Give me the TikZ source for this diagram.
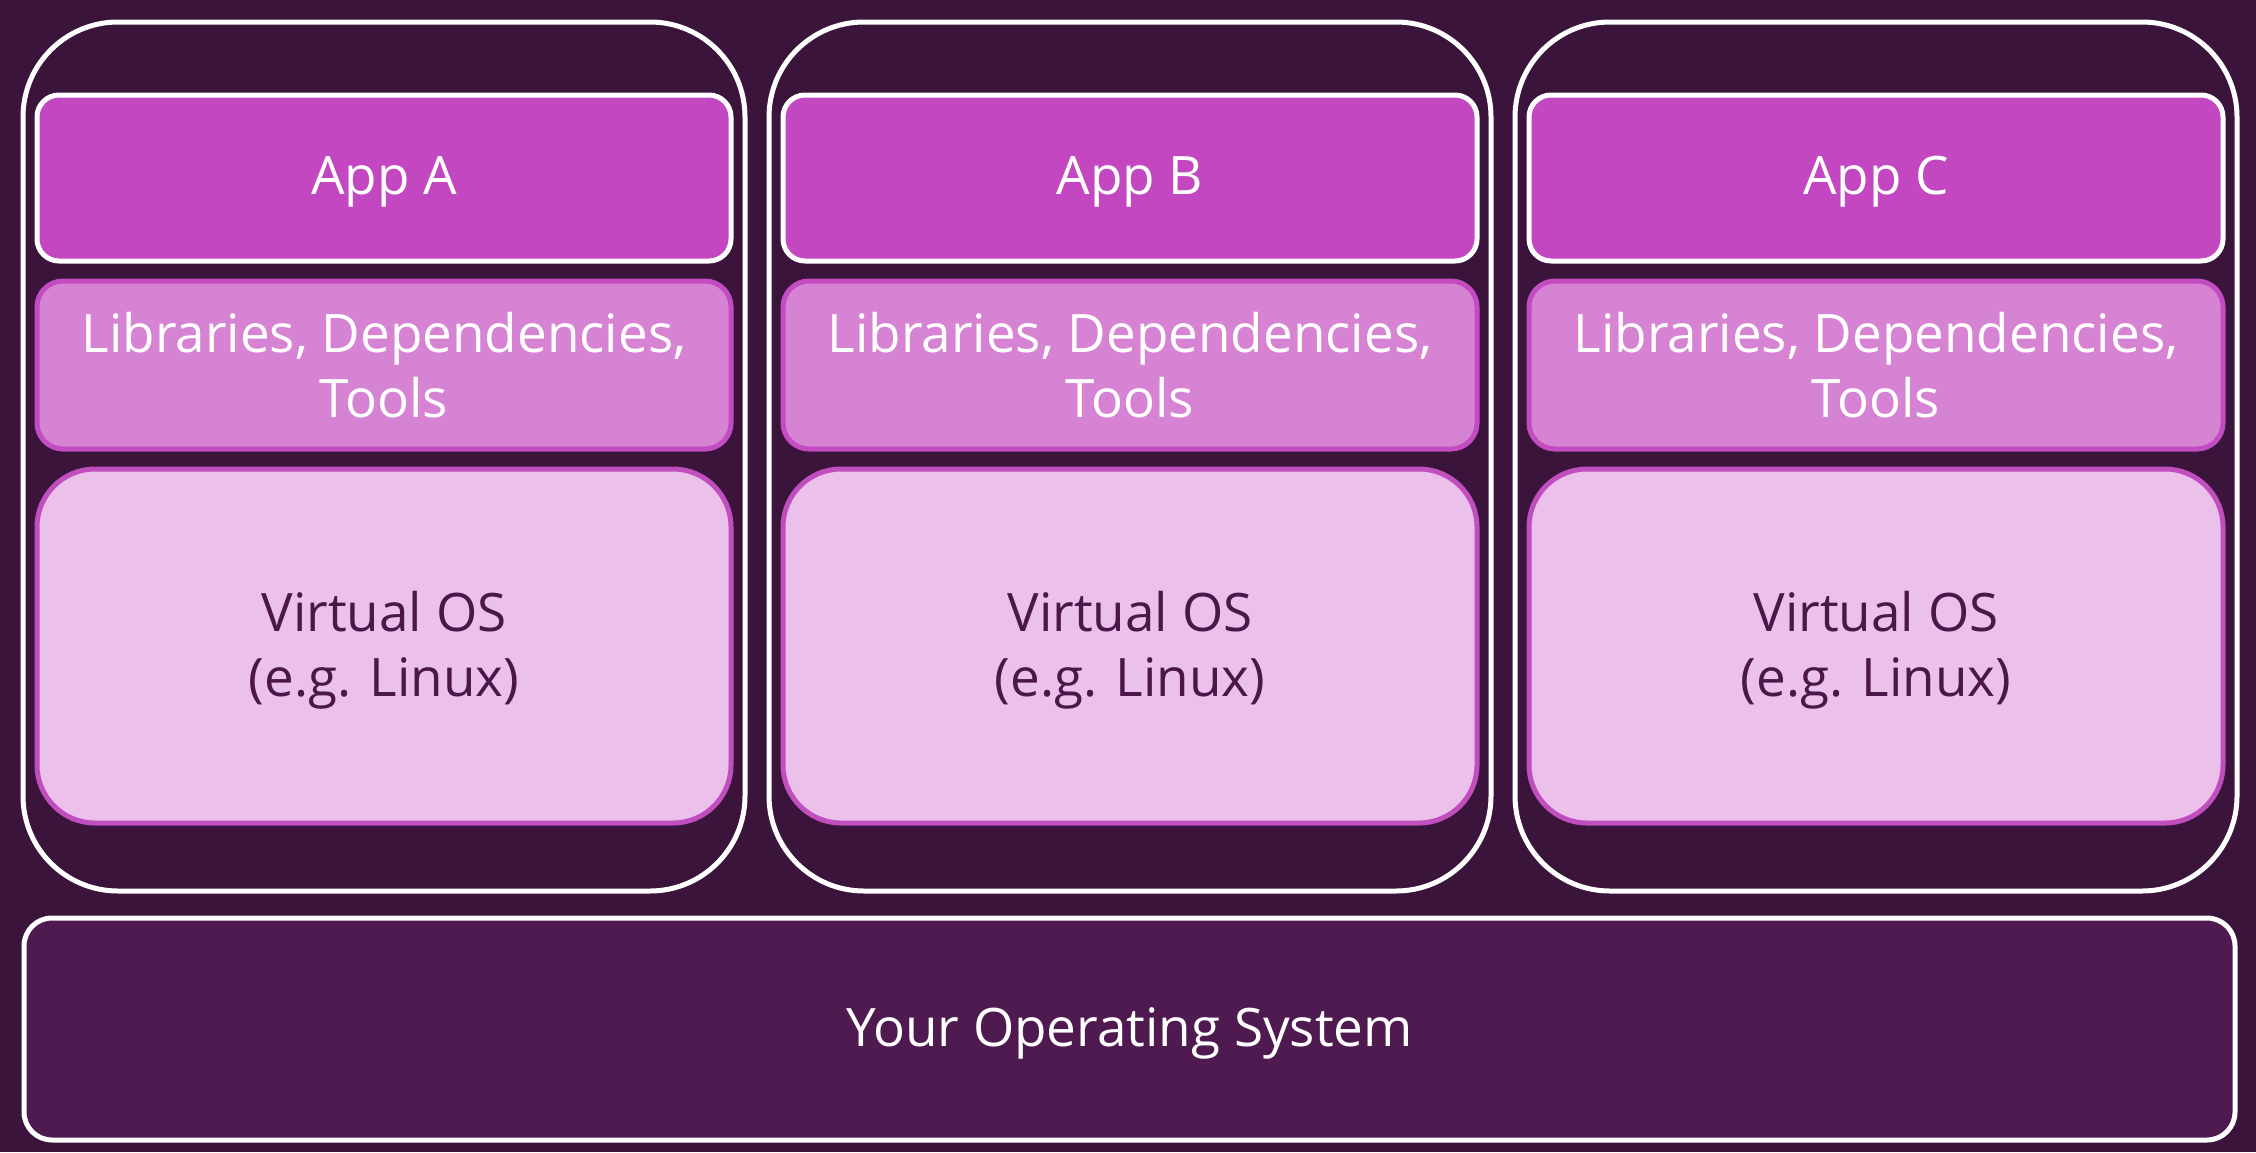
\documentclass[tikz,border=0pt]{standalone}
\usepackage{fontspec}
\setmainfont{Open Sans}
\definecolor{bgc}{RGB}{58,20,58}
\definecolor{osfill}{RGB}{78,26,80}
\definecolor{appfill}{RGB}{194,71,192}
\definecolor{libfill}{RGB}{214,131,212}
\definecolor{libline}{RGB}{196,76,194}
\definecolor{vosfill}{RGB}{235,192,234}
\definecolor{vosline}{RGB}{192,78,190}
\definecolor{vostext}{RGB}{75,22,73}
\tikzset{
  txt/.style={font=\fontsize{53}{65}\selectfont, align=center, inner sep=0pt},
  container/.style={draw=white, line width=5pt, rounded corners=95pt, minimum width=722pt, minimum height=869pt, inner sep=0pt},
  appbox/.style={draw=white, line width=5pt, fill=appfill, rounded corners=22pt, minimum width=694pt, minimum height=166pt},
  libbox/.style={draw=libline, line width=5pt, fill=libfill, rounded corners=26pt, minimum width=694pt, minimum height=168pt},
  vosbox/.style={draw=vosline, line width=5pt, fill=vosfill, rounded corners=58pt, minimum width=694pt, minimum height=354pt},
  osbox/.style={draw=white, line width=5pt, fill=osfill, rounded corners=28pt, minimum width=2211pt, minimum height=222pt},
}
\begin{document}
\begin{tikzpicture}[x=1pt,y=-1pt]
\fill[bgc] (0,0) rectangle (2256,1152);
\useasboundingbox (0,0) rectangle (2256,1152);
\foreach \n/\cx/\l in {a/384/A, b/1130/B, c/1876/C}{
  \node[container] (cont\n) at (\cx,456.5) {};
  \node[appbox] (app\n) at (\cx,178) {};
  \node[txt, text=white] (apptxt\n) at ([yshift=-4pt]app\n.center) {App \l};
  \node[libbox] (lib\n) at (\cx,365) {};
  \node[txt, text=white] (libtxt\n) at ([yshift=0pt]lib\n.center) {Libraries, Dependencies,\\Tools};
  \node[vosbox] (vos\n) at (\cx,646) {};
  \node[txt, text=vostext] (vostxt\n) at ([yshift=-4pt]vos\n.center) {Virtual OS\\(e.g. Linux)};
}
\node[osbox] (os) at (1129.5,1029) {};
\node[txt, text=white] (ostxt) at ([yshift=-4pt]os.center) {Your Operating System};
\end{tikzpicture}
\end{document}
